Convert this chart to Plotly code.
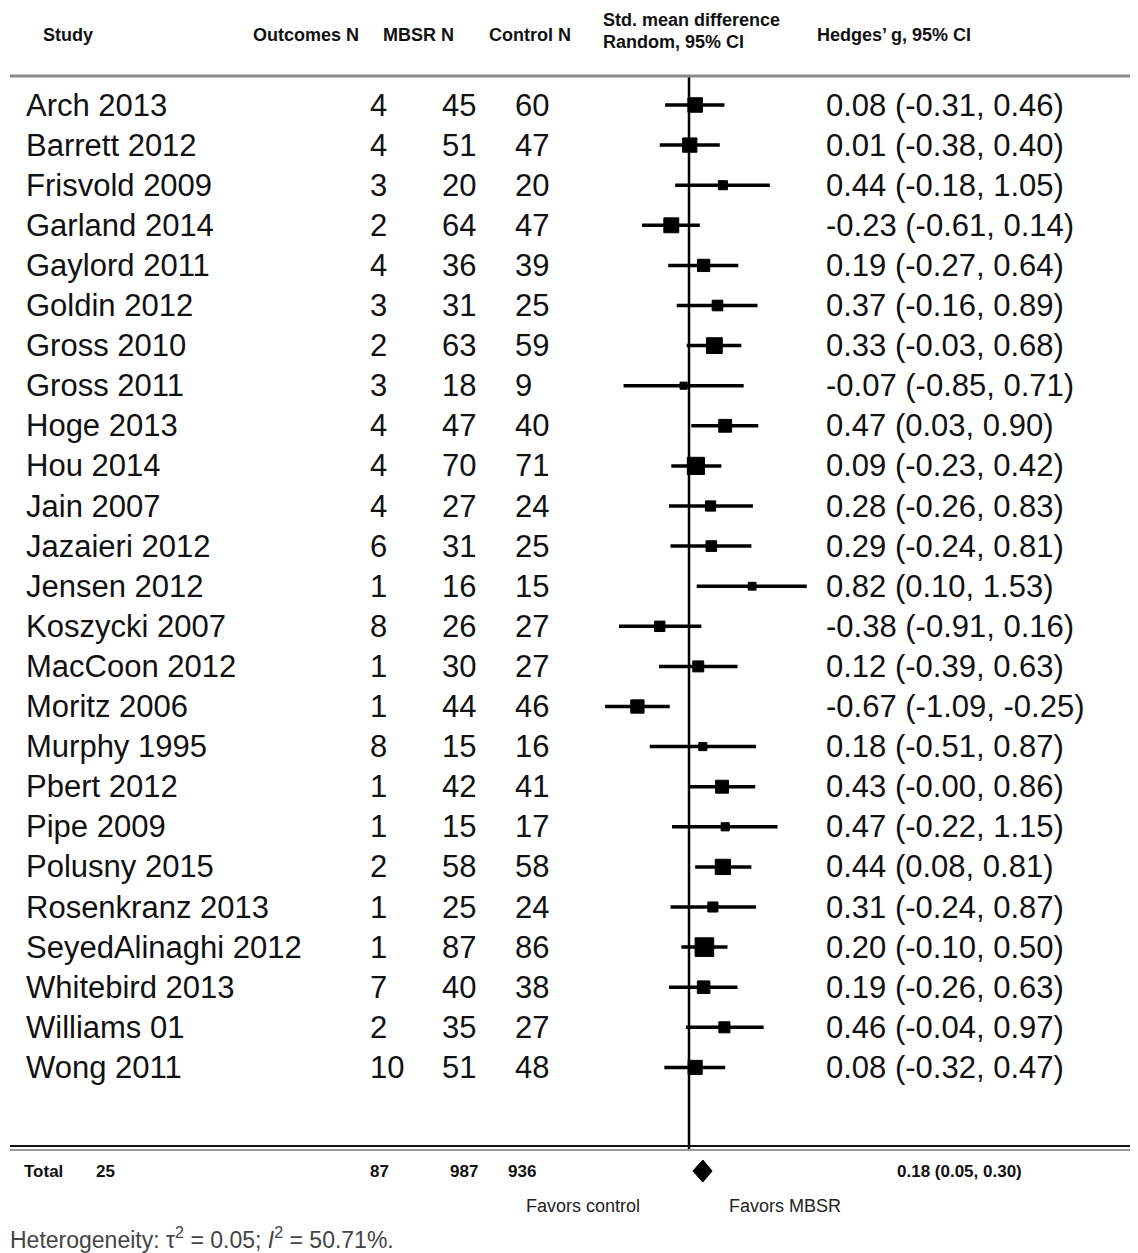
import plotly.graph_objects as go

# ---------------- data ----------------
studies = ["Arch 2013", "Barrett 2012", "Frisvold 2009", "Garland 2014", "Gaylord 2011",
           "Goldin 2012", "Gross 2010", "Gross 2011", "Hoge 2013", "Hou 2014",
           "Jain 2007", "Jazaieri 2012", "Jensen 2012", "Koszycki 2007", "MacCoon 2012",
           "Moritz 2006", "Murphy 1995", "Pbert 2012", "Pipe 2009", "Polusny 2015",
           "Rosenkranz 2013", "SeyedAlinaghi 2012", "Whitebird 2013", "Williams 01", "Wong 2011"]
outcomes_n = [4, 4, 3, 2, 4, 3, 2, 3, 4, 4, 4, 6, 1, 8, 1, 1, 8, 1, 1, 2, 1, 1, 7, 2, 10]
mbsr_n = [45, 51, 20, 64, 36, 31, 63, 18, 47, 70, 27, 31, 16, 26, 30, 44, 15, 42, 15, 58, 25, 87, 40, 35, 51]
control_n = [60, 47, 20, 47, 39, 25, 59, 9, 40, 71, 24, 25, 15, 27, 27, 46, 16, 41, 17, 58, 24, 86, 38, 27, 48]
hedges_g = [0.08, 0.01, 0.44, -0.23, 0.19, 0.37, 0.33, -0.07, 0.47, 0.09, 0.28, 0.29, 0.82, -0.38, 0.12,
            -0.67, 0.18, 0.43, 0.47, 0.44, 0.31, 0.20, 0.19, 0.46, 0.08]
ci_low = [-0.31, -0.38, -0.18, -0.61, -0.27, -0.16, -0.03, -0.85, 0.03, -0.23, -0.26, -0.24, 0.10, -0.91, -0.39,
          -1.09, -0.51, -0.004, -0.22, 0.08, -0.24, -0.10, -0.26, -0.04, -0.32]
ci_high = [0.46, 0.40, 1.05, 0.14, 0.64, 0.89, 0.68, 0.71, 0.90, 0.42, 0.83, 0.81, 1.53, 0.16, 0.63,
           -0.25, 0.87, 0.86, 1.15, 0.81, 0.87, 0.50, 0.63, 0.97, 0.47]

total_label = "Total"
total_studies = 25
total_outcomes = 87
total_mbsr = 987
total_control = 936
pooled_g = 0.18
pooled_low = 0.05
pooled_high = 0.30
tau2 = 0.05
i2 = 50.71

header_study = "Study"
header_outcomes = "Outcomes N"
header_mbsr = "MBSR N"
header_control = "Control N"
header_smd = ["Std. mean difference", "Random, 95% CI"]
header_hedges = "Hedges\u2019 g, 95% CI"
favors_left = "Favors control"
favors_right = "Favors MBSR"

# ---------------- layout helpers ----------------
OFF = 8                      # page body margin
WIN_W, WIN_H = 1138, 1253
W, H = WIN_W - OFF, WIN_H - OFF
ROW0_PX, ROW_PX = 105, 40.1  # window pixels
ZERO_PX, UNIT_PX = 689, 77.0
TXT_PAD = 3

def py(px):
    return (px - ROW0_PX) / ROW_PX

def pxx(px):
    return max(px - OFF - TXT_PAD, 0) / W

def xdata(px):
    return (px - ZERO_PX) / UNIT_PX

FONT = "Liberation Sans, Arial, sans-serif"
MAIN = dict(family=FONT, size=31, color="#111111")
HEAD = dict(family=FONT, size=18, color="#111111")
TOT = dict(family=FONT, size=17, color="#111111")

n = len(studies)
rows = list(range(n))

fig = go.Figure()

# CI lines
fig.add_trace(go.Scatter(
    x=hedges_g, y=rows, mode="markers",
    marker=dict(symbol="square", size=1, color="black", opacity=0),
    error_x=dict(type="data", symmetric=False,
                 array=[h - g for g, h in zip(hedges_g, ci_high)],
                 arrayminus=[g - l for g, l in zip(hedges_g, ci_low)],
                 width=0, thickness=3.5, color="black"),
    hoverinfo="skip", showlegend=False))

# squares (side ~ 1/SE)
se = [(h - l) / 3.92 for l, h in zip(ci_low, ci_high)]
sizes = [2.85 / s for s in se]
fig.add_trace(go.Scatter(
    x=hedges_g, y=rows, mode="markers",
    marker=dict(symbol="square", size=sizes, color="black", opacity=1,
                line=dict(width=1, color="black")),
    hoverinfo="skip", showlegend=False))

# pooled diamond
y_tot = py(1171)
dh = 11 / ROW_PX
fig.add_trace(go.Scatter(
    x=[pooled_low, pooled_g, pooled_high, pooled_g, pooled_low],
    y=[y_tot, y_tot - dh, y_tot, y_tot + dh, y_tot],
    mode="lines", fill="toself", fillcolor="black", line=dict(color="black", width=1),
    hoverinfo="skip", showlegend=False))

shapes = []
shapes.append(dict(type="line", xref="x", yref="y", x0=0, x1=0, y0=py(76), y1=py(1150),
                   line=dict(color="black", width=2.5)))
shapes.append(dict(type="line", xref="x", yref="y", x0=xdata(10), x1=xdata(WIN_W), y0=py(76), y1=py(76),
                   line=dict(color="#8a8a8a", width=3)))
shapes.append(dict(type="line", xref="x", yref="y", x0=xdata(10), x1=xdata(WIN_W), y0=py(1146), y1=py(1146),
                   line=dict(color="#111111", width=2)))
shapes.append(dict(type="line", xref="x", yref="y", x0=xdata(10), x1=xdata(WIN_W), y0=py(1150), y1=py(1150),
                   line=dict(color="#9a9a9a", width=2)))

ann = []
def add(text, xpx, y, font):
    ann.append(dict(text=text, x=pxx(xpx), y=y, xref="paper", yref="y", showarrow=False,
                    xanchor="left", yanchor="middle", align="left", font=font))

# header
yh = py(35)
add("<b>%s</b>" % header_study, 44, yh, HEAD)
add("<b>%s</b>" % header_outcomes, 254, yh, HEAD)
add("<b>%s</b>" % header_mbsr, 384, yh, HEAD)
add("<b>%s</b>" % header_control, 490, yh, HEAD)
add("<b>%s</b>" % header_smd[0], 604, py(20), HEAD)
add("<b>%s</b>" % header_smd[1], 604, py(42), HEAD)
add("<b>%s</b>" % header_hedges, 818, yh, HEAD)

# rows
for i in rows:
    add(studies[i], 27, i, MAIN)
    add(str(outcomes_n[i]), 371, i, MAIN)
    add(str(mbsr_n[i]), 443, i, MAIN)
    add(str(control_n[i]), 516, i, MAIN)
    add("%.2f (%.2f, %.2f)" % (hedges_g[i], ci_low[i], ci_high[i]), 827, i, MAIN)

# total row
add("<b>%s</b>" % total_label, 25, y_tot, TOT)
add("<b>%d</b>" % total_studies, 97, y_tot, TOT)
add("<b>%d</b>" % total_outcomes, 371, y_tot, TOT)
add("<b>%d</b>" % total_mbsr, 451, y_tot, TOT)
add("<b>%d</b>" % total_control, 509, y_tot, TOT)
add("<b>%.2f (%.2f, %.2f)</b>" % (pooled_g, pooled_low, pooled_high), 898, y_tot, TOT)

FAV = dict(family=FONT, size=18, color="#222222")
add(favors_left, 527, py(1206), FAV)
add(favors_right, 730, py(1206), FAV)

add("Heterogeneity: \u03c4<sup>2</sup> = %.2f; <i>I</i><sup>2</sup> = %.2f%%." % (tau2, i2), 2, py(1238),
    dict(family=FONT, size=23, color="#444444"))

fig.update_layout(
    width=W, height=H, margin=dict(l=0, r=0, t=0, b=0),
    paper_bgcolor="white", plot_bgcolor="white",
    xaxis=dict(range=[xdata(OFF), xdata(WIN_W)], visible=False, fixedrange=True),
    yaxis=dict(range=[py(WIN_H), py(OFF)], visible=False, fixedrange=True),
    shapes=shapes, annotations=ann, showlegend=False)

fig.write_html("out.html")
